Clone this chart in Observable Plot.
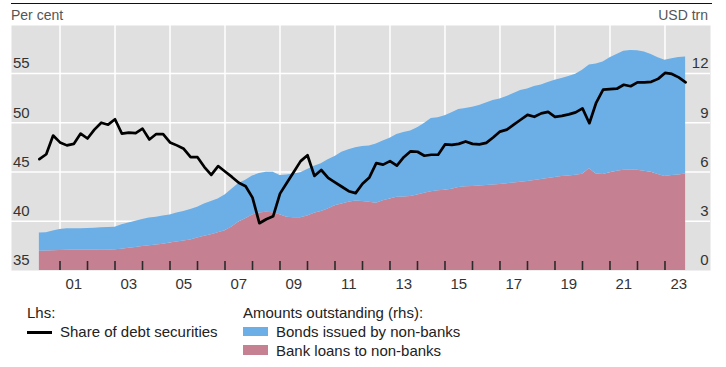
<!DOCTYPE html>
<html>
<head>
<meta charset="utf-8">
<script src="https://cdn.jsdelivr.net/npm/d3@7"></script>
<script src="https://cdn.jsdelivr.net/npm/@observablehq/plot@0.6"></script>
<style>
  body { margin: 0; background: #fff; font-family: "Liberation Sans", Arial, sans-serif; }
  #wrap { position: relative; width: 726px; height: 367px; overflow: hidden; }
  .t { position: absolute; line-height: 18px; font-size: 15px; color: #222; white-space: nowrap; }
  #rule { position: absolute; left: 11px; top: 3px; width: 701px; height: 0; border-top: 1.4px solid #111; }
  #chart { position: absolute; left: 0; top: 25px; }
  .sw { position: absolute; }
</style>
</head>
<body>
<div id="wrap">
  <div id="rule"></div>
  <div class="t" style="left:11px; top:6px; font-size:14px; color:#555;">Per cent</div>
  <div class="t" style="right:18px; top:6px; font-size:14px; color:#555;">USD trn</div>
  <div id="chart"></div>
  <div class="t" style="left:27px; top:304px;">Lhs:</div>
  <div class="sw" style="left:27px; top:331px; width:25px; height:2.6px; background:#000;"></div>
  <div class="t" style="left:60px; top:323px;">Share of debt securities</div>
  <div class="t" style="left:243px; top:304px;">Amounts outstanding (rhs):</div>
  <div class="sw" style="left:243px; top:327px; width:25px; height:9px; background:#6caee6;"></div>
  <div class="t" style="left:276px; top:323px;">Bonds issued by non-banks</div>
  <div class="sw" style="left:243px; top:345px; width:25px; height:10px; background:#c58192;"></div>
  <div class="t" style="left:276px; top:342px;">Bank loans to non-banks</div>
</div>
<script>
// Quarterly observations, 2000 Q1 to 2023 Q3 (quarter-end)
const firstYear = 2000;

// Share of debt securities, per cent (lhs)
const share = [
  46.3, 46.8, 48.7, 48.0,   // 2000
  47.7, 47.85, 48.9, 48.4,  // 2001
  49.3, 50.0, 49.8, 50.35,  // 2002
  48.9, 49.0, 48.95, 49.4,  // 2003
  48.3, 48.85, 48.85, 48.0, // 2004
  47.7, 47.35, 46.5, 46.5,  // 2005
  45.5, 44.7, 45.6, 45.05,  // 2006
  44.5, 43.9, 43.55, 42.4,  // 2007
  39.8, 40.2, 40.5, 42.8,   // 2008
  43.9, 45.0, 46.1, 46.7,   // 2009
  44.6, 45.2, 44.4, 43.95,  // 2010
  43.5, 43.05, 42.85, 43.8, // 2011
  44.45, 45.9, 45.75, 46.1, // 2012
  45.65, 46.5, 47.1, 47.05, // 2013
  46.65, 46.75, 46.75, 47.8,// 2014
  47.75, 47.85, 48.1, 47.85,// 2015
  47.8, 47.95, 48.5, 49.1,  // 2016
  49.3, 49.8, 50.3, 50.8,   // 2017
  50.6, 50.95, 51.1, 50.6,  // 2018
  50.7, 50.85, 51.05, 51.45,// 2019
  49.95, 52.05, 53.35, 53.4,// 2020
  53.45, 53.85, 53.7, 54.1, // 2021
  54.1, 54.15, 54.45, 55.05,// 2022
  54.95, 54.6, 54.1         // 2023
];

// Bank loans to non-banks, USD trn (rhs)
const loans = [
  1.17, 1.19, 1.20, 1.22,
  1.24, 1.25, 1.25, 1.25,
  1.25, 1.24, 1.24, 1.26,
  1.30, 1.35, 1.40, 1.46,
  1.50, 1.55, 1.60, 1.68,
  1.73, 1.80, 1.86, 1.98,
  2.08, 2.18, 2.30, 2.42,
  2.65, 2.95, 3.15, 3.38,
  3.50, 3.55, 3.52, 3.40,
  3.25, 3.22, 3.22, 3.32,
  3.48, 3.60, 3.75, 3.95,
  4.05, 4.15, 4.24, 4.20,
  4.15, 4.10, 4.25, 4.36,
  4.46, 4.48, 4.50, 4.60,
  4.70, 4.80, 4.85, 4.88,
  4.95, 5.05, 5.10, 5.12,
  5.15, 5.18, 5.20, 5.24,
  5.28, 5.33, 5.37, 5.42,
  5.48, 5.54, 5.60, 5.66,
  5.72, 5.76, 5.80, 5.86,
  6.19, 5.88, 5.84, 5.95,
  6.05, 6.10, 6.12, 6.10,
  6.05, 5.98, 5.85, 5.72,
  5.78, 5.82, 5.88
];

// Bonds issued by non-banks, USD trn (rhs)
const bonds = [
  1.11, 1.11, 1.20, 1.28,
  1.30, 1.30, 1.29, 1.31,
  1.33, 1.36, 1.38, 1.38,
  1.48, 1.55, 1.60, 1.64,
  1.70, 1.70, 1.72, 1.70,
  1.77, 1.80, 1.86, 1.87,
  1.97, 2.02, 2.05, 2.18,
  2.30, 2.35, 2.35, 2.37,
  2.40, 2.43, 2.46, 2.38,
  2.57, 2.66, 2.73, 2.83,
  2.87, 2.90, 3.00, 3.00,
  3.15, 3.20, 3.23, 3.35,
  3.43, 3.60, 3.63, 3.69,
  3.82, 3.92, 4.00, 4.10,
  4.25, 4.45, 4.45, 4.54,
  4.65, 4.75, 4.77, 4.82,
  4.90, 5.02, 5.15, 5.21,
  5.32, 5.45, 5.59, 5.63,
  5.72, 5.76, 5.85, 5.92,
  5.98, 6.06, 6.15, 6.34,
  6.33, 6.70, 6.86, 7.00,
  7.10, 7.25, 7.28, 7.28,
  7.25, 7.17, 7.10, 7.08,
  7.12, 7.15, 7.12
];

const seriesNames = ["Bank loans to non-banks", "Bonds issued by non-banks"];
const seriesColors = ["#c58192", "#6caee6"];
const rhsTicks = [0, 3, 6, 9, 12];
const lhsTicks = [35, 40, 45, 50, 55];
const tickYears = [2001, 2002, 2003, 2004, 2005, 2006, 2007, 2008, 2009, 2010, 2011, 2012,
                   2013, 2014, 2015, 2016, 2017, 2018, 2019, 2020, 2021, 2022, 2023];
const gridYears = [2001, 2003, 2005, 2007, 2009, 2011, 2013, 2015, 2017, 2019, 2021, 2023];
const labelYears = gridYears;

const t = share.map((_, i) => firstYear + (i + 1) / 4);
const rows = t.map((d, i) => ({t: d, share: share[i], loans: loans[i], bonds: bonds[i]}));
const stacked = rows.flatMap(r => [
  {t: r.t, series: seriesNames[0], v: r.loans},
  {t: r.t, series: seriesNames[1], v: r.bonds}
]);
const tickRows = tickYears.map(y => ({year: y}));
// lhs (per cent) to rhs (USD trn): 35 -> 0, 55 -> 12
const lhsToRhs = p => (p - lhsTicks[0]) * (rhsTicks[4] - rhsTicks[0]) / (lhsTicks[4] - lhsTicks[0]);
const rhsToLhs = r => lhsTicks[0] + r * (lhsTicks[4] - lhsTicks[0]) / (rhsTicks[4] - rhsTicks[0]);

const chart = Plot.plot({
  width: 726,
  height: 270,
  marginTop: 0,
  marginBottom: 25,
  marginLeft: 11,
  marginRight: 16,
  style: {background: "transparent", fontFamily: "'Liberation Sans', Arial, sans-serif", fontSize: "15px", color: "#333"},
  x: {domain: [1999.236, 2024.655], label: null},
  y: {domain: [0, 14.92], label: null},
  color: {domain: seriesNames, range: seriesColors},
  marks: [
    Plot.frame({fill: "#e0e0e0", stroke: null}),
    Plot.gridY(rhsTicks.slice(1), {stroke: "#fff", strokeOpacity: 1, strokeWidth: 1.5}),
    Plot.gridX(gridYears, {stroke: "#fff", strokeOpacity: 1, strokeWidth: 1.5}),
    Plot.areaY(stacked, {x: "t", y: "v", fill: "series", curve: "linear"}),
    Plot.line(rows, {x: "t", y: d => lhsToRhs(d.share), stroke: "#000", strokeWidth: 2.7, strokeLinejoin: "round"}),
    // short year tick marks rising from the bottom of the panel
    Plot.tickX(tickRows, {x: "year", insetTop: 236, stroke: "#2a2a2a", strokeWidth: 1.6, strokeOpacity: 1}),
    Plot.axisX({ticks: labelYears.map(y => y + 0.5), tickSize: 0, tickPadding: 8, fill: "#333",
      tickFormat: d => String(Math.floor(d) % 100).padStart(2, "0"), label: null}),
    Plot.axisY({anchor: "left", ticks: rhsTicks, tickSize: 0, tickPadding: 0, dx: 1.5, dy: -10,
      textAnchor: "start", fill: "#333", tickFormat: r => String(rhsToLhs(r)), label: null}),
    Plot.axisY({anchor: "right", ticks: rhsTicks, tickSize: 0, tickPadding: 0, dx: -2, dy: -10,
      textAnchor: "end", fill: "#333", tickFormat: r => String(r), label: null})
  ]
});
document.getElementById("chart").appendChild(chart);
</script>
</body>
</html>
